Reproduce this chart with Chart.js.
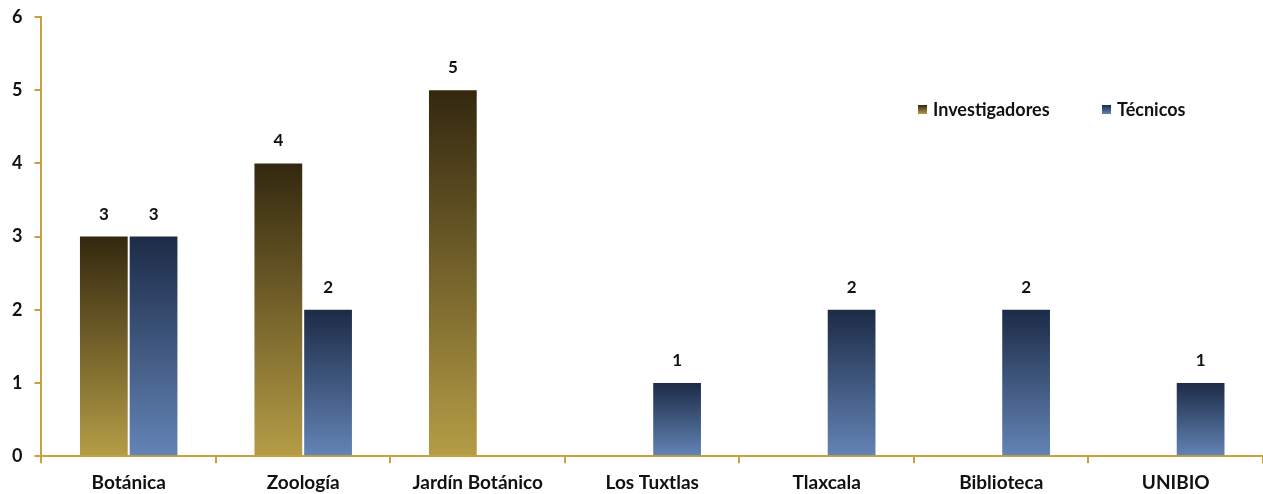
<!DOCTYPE html>
<html>
<head>
<meta charset="utf-8">
<script src="https://cdn.jsdelivr.net/npm/chart.js@4"></script>
<style>
  html, body { margin: 0; padding: 0; background: #fff; }
  #wrap { position: relative; width: 1263px; height: 494px; }
</style>
</head>
<body>
<div id="wrap"><canvas id="staffChart" width="1263" height="494"></canvas></div>
<script>
const categories = ['Botánica', 'Zoología', 'Jardín Botánico', 'Los Tuxtlas', 'Tlaxcala', 'Biblioteca', 'UNIBIO']
const investigadores = [3, 4, 5, null, null, null, null]
const tecnicos = [3, 2, null, 1, 2, 2, 1]
const yTicks = [0, 1, 2, 3, 4, 5, 6]

const axisGold = '#c9a13f'
const fontFamily = 'Lato, "Open Sans", sans-serif'

const palette = {
    Investigadores: ['#33280f', '#b59d46'],
    'Técnicos': ['#1c2b47', '#6384b6']
}

// gradient per bar, dark on top, light at the base
function barGradient(c) {
    const chart = c.chart
    const stops = palette[c.dataset.label]
    const v = c.raw
    if (!chart.chartArea || v == null) return stops[1]
    const y = chart.scales.y
    const top = y.getPixelForValue(v)
    const bottom = y.getPixelForValue(0)
    const g = chart.ctx.createLinearGradient(0, top, 0, bottom)
    g.addColorStop(0, stops[0])
    g.addColorStop(1, stops[1])
    return g
}

const valueLabels = {
    id: 'valueLabels',
    afterDatasetsDraw(chart) {
        const ctx = chart.ctx
        ctx.save()
        ctx.font = 'bold 17px ' + fontFamily
        ctx.fillStyle = '#111'
        ctx.textAlign = 'center'
        ctx.textBaseline = 'alphabetic'
        chart.data.datasets.forEach((ds, i) => {
            chart.getDatasetMeta(i).data.forEach((bar, j) => {
                if (ds.data[j] == null) return
                ctx.fillText(ds.data[j], bar.x, bar.y - 17)
            })
        })
        ctx.restore()
    }
}

const sideLegend = {
    id: 'sideLegend',
    afterDraw(chart) {
        const ctx = chart.ctx
        const items = [['Investigadores', 918], ['Técnicos', 1102]]
        ctx.save()
        ctx.font = 'bold 18px ' + fontFamily
        ctx.textBaseline = 'middle'
        items.forEach(([name, x]) => {
            const stops = palette[name]
            const g = ctx.createLinearGradient(0, 105, 0, 114)
            g.addColorStop(0, stops[0])
            g.addColorStop(1, stops[1])
            ctx.fillStyle = g
            ctx.fillRect(x, 105, 9, 9)
            ctx.fillStyle = '#111'
            ctx.fillText(name, x + 15, 110)
        })
        ctx.restore()
    }
}

new Chart(document.getElementById('staffChart'), {
    type: 'bar',
    data: {
        labels: categories,
        datasets: [
            { label: 'Investigadores', data: investigadores, backgroundColor: barGradient },
            { label: 'Técnicos', data: tecnicos, backgroundColor: barGradient }
        ]
    },
    options: {
        responsive: false,
        animation: false,
        categoryPercentage: 0.57,
        barPercentage: 0.96,
        layout: { padding: { top: 17, right: 0, left: 0, bottom: -8 } },
        plugins: {
            legend: { display: false },
            tooltip: { enabled: false }
        },
        scales: {
            x: {
                grid: { drawOnChartArea: false, color: axisGold, tickLength: 7, lineWidth: 2 },
                border: { color: axisGold, width: 2 },
                ticks: { color: '#111', font: { family: fontFamily, size: 19, weight: 'bold' }, padding: 8, maxRotation: 0 }
            },
            y: {
                min: 0,
                max: 6,
                afterBuildTicks: axis => { axis.ticks = yTicks.map(v => ({ value: v })) },
                afterFit: axis => { axis.paddingTop = 0; axis.paddingBottom = 0 },
                grid: { drawOnChartArea: false, color: axisGold, tickLength: 7, lineWidth: 2 },
                border: { color: axisGold, width: 2 },
                ticks: { color: '#111', font: { family: fontFamily, size: 18, weight: 'bold' }, padding: 12 }
            }
        }
    },
    plugins: [valueLabels, sideLegend]
})
</script>
</body>
</html>
